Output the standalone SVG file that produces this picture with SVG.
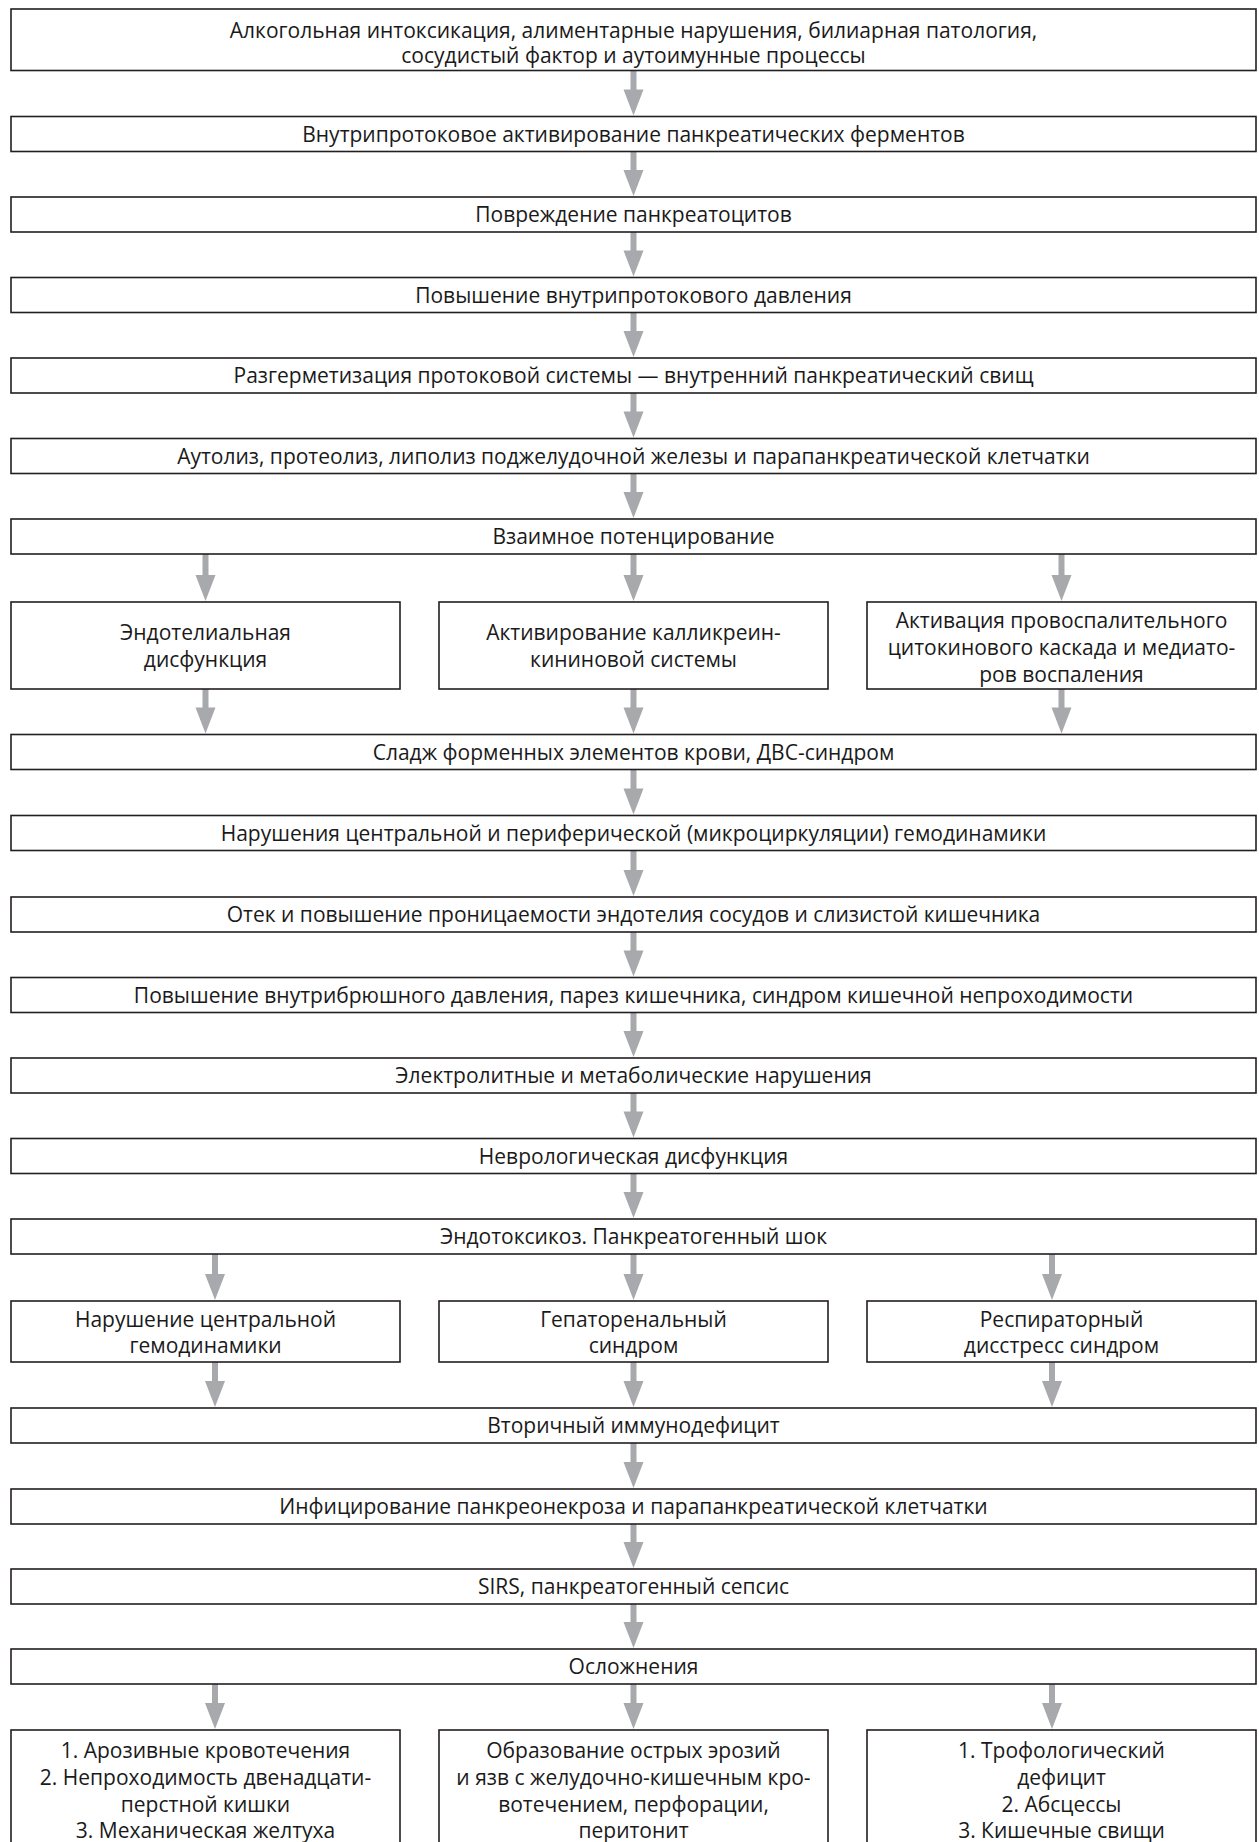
<svg xmlns="http://www.w3.org/2000/svg" width="1259" height="1842" viewBox="0 0 1259 1842">
<style>
.b{fill:#fff;stroke:#231f20;stroke-width:1.6}
.t{font-family:"Open Sans","Noto Sans",sans-serif;font-size:21px;fill:#1a1a1a;text-anchor:middle}
.a{fill:#a7a9ac}
</style>
<rect width="1259" height="1842" fill="#fff"/>
<g id="connectors">
<path class="a" d="M630.5,70.5V89.5H623.5L633.5,115.5L643.5,89.5H636.5V70.5Z"/>
<path class="a" d="M630.5,151.5V170H623.5L633.5,196L643.5,170H636.5V151.5Z"/>
<path class="a" d="M630.5,232V250.5H623.5L633.5,276.5L643.5,250.5H636.5V232Z"/>
<path class="a" d="M630.5,312.5V331H623.5L633.5,357L643.5,331H636.5V312.5Z"/>
<path class="a" d="M630.5,393V411.5H623.5L633.5,437.5L643.5,411.5H636.5V393Z"/>
<path class="a" d="M630.5,473.5V492H623.5L633.5,518L643.5,492H636.5V473.5Z"/>
<path class="a" d="M202.5,554V575H195.5L205.5,601L215.5,575H208.5V554Z"/>
<path class="a" d="M630.5,554V575H623.5L633.5,601L643.5,575H636.5V554Z"/>
<path class="a" d="M1058.5,554V575H1051.5L1061.5,601L1071.5,575H1064.5V554Z"/>
<path class="a" d="M202.5,689V707.5H195.5L205.5,733.5L215.5,707.5H208.5V689Z"/>
<path class="a" d="M630.5,689V707.5H623.5L633.5,733.5L643.5,707.5H636.5V689Z"/>
<path class="a" d="M1058.5,689V707.5H1051.5L1061.5,733.5L1071.5,707.5H1064.5V689Z"/>
<path class="a" d="M630.5,769.5V788.5H623.5L633.5,814.5L643.5,788.5H636.5V769.5Z"/>
<path class="a" d="M630.5,850.5V870H623.5L633.5,896L643.5,870H636.5V850.5Z"/>
<path class="a" d="M630.5,932V950.5H623.5L633.5,976.5L643.5,950.5H636.5V932Z"/>
<path class="a" d="M630.5,1012.5V1031H623.5L633.5,1057L643.5,1031H636.5V1012.5Z"/>
<path class="a" d="M630.5,1093V1111.5H623.5L633.5,1137.5L643.5,1111.5H636.5V1093Z"/>
<path class="a" d="M630.5,1173.5V1192H623.5L633.5,1218L643.5,1192H636.5V1173.5Z"/>
<path class="a" d="M212,1254V1274H205L215,1300L225,1274H218V1254Z"/>
<path class="a" d="M630.5,1254V1274H623.5L633.5,1300L643.5,1274H636.5V1254Z"/>
<path class="a" d="M1049,1254V1274H1042L1052,1300L1062,1274H1055V1254Z"/>
<path class="a" d="M212,1362V1381H205L215,1407L225,1381H218V1362Z"/>
<path class="a" d="M630.5,1362V1381H623.5L633.5,1407L643.5,1381H636.5V1362Z"/>
<path class="a" d="M1049,1362V1381H1042L1052,1407L1062,1381H1055V1362Z"/>
<path class="a" d="M630.5,1443V1462H623.5L633.5,1488L643.5,1462H636.5V1443Z"/>
<path class="a" d="M630.5,1524V1542H623.5L633.5,1568L643.5,1542H636.5V1524Z"/>
<path class="a" d="M630.5,1604V1622H623.5L633.5,1648L643.5,1622H636.5V1604Z"/>
<path class="a" d="M212,1684V1703H205L215,1729L225,1703H218V1684Z"/>
<path class="a" d="M630.5,1684V1703H623.5L633.5,1729L643.5,1703H636.5V1684Z"/>
<path class="a" d="M1049,1684V1703H1042L1052,1729L1062,1703H1055V1684Z"/>
</g>
<g id="n1"><rect class="b" x="11" y="9" width="1245" height="61.5"/><text class="t" x="633.5" y="37.5">Алкогольная интоксикация, алиментарные нарушения, билиарная патология,</text><text class="t" x="633.5" y="62.5">сосудистый фактор и аутоимунные процессы</text></g>
<g id="n2"><rect class="b" x="11" y="116.5" width="1245" height="35"/><text class="t" x="633.5" y="141.5">Внутрипротоковое активирование панкреатических ферментов</text></g>
<g id="n3"><rect class="b" x="11" y="197" width="1245" height="35"/><text class="t" x="633.5" y="222">Повреждение панкреатоцитов</text></g>
<g id="n4"><rect class="b" x="11" y="277.5" width="1245" height="35"/><text class="t" x="633.5" y="302.5">Повышение внутрипротокового давления</text></g>
<g id="n5"><rect class="b" x="11" y="358" width="1245" height="35"/><text class="t" x="633.5" y="383">Разгерметизация протоковой системы — внутренний панкреатический свищ</text></g>
<g id="n6"><rect class="b" x="11" y="438.5" width="1245" height="35"/><text class="t" x="633.5" y="463.5">Аутолиз, протеолиз, липолиз поджелудочной железы и парапанкреатической клетчатки</text></g>
<g id="n7"><rect class="b" x="11" y="519" width="1245" height="35"/><text class="t" x="633.5" y="544">Взаимное потенцирование</text></g>
<g id="n8a"><rect class="b" x="11" y="602" width="389" height="87"/><text class="t" x="205.5" y="639.5">Эндотелиальная</text><text class="t" x="205.5" y="666.5">дисфункция</text></g>
<g id="n8b"><rect class="b" x="439" y="602" width="389" height="87"/><text class="t" x="633.5" y="639.5">Активирование калликреин-</text><text class="t" x="633.5" y="666.5">кининовой системы</text></g>
<g id="n8c"><rect class="b" x="867" y="602" width="389" height="87"/><text class="t" x="1061.5" y="627.5">Активация провоспалительного</text><text class="t" x="1061.5" y="654.5">цитокинового каскада и медиато-</text><text class="t" x="1061.5" y="681.5">ров воспаления</text></g>
<g id="n9"><rect class="b" x="11" y="734.5" width="1245" height="35"/><text class="t" x="633.5" y="759.5">Сладж форменных элементов крови, ДВС-синдром</text></g>
<g id="n10"><rect class="b" x="11" y="815.5" width="1245" height="35"/><text class="t" x="633.5" y="840.5">Нарушения центральной и периферической (микроциркуляции) гемодинамики</text></g>
<g id="n11"><rect class="b" x="11" y="897" width="1245" height="35"/><text class="t" x="633.5" y="922">Отек и повышение проницаемости эндотелия сосудов и слизистой кишечника</text></g>
<g id="n12"><rect class="b" x="11" y="977.5" width="1245" height="35"/><text class="t" x="633.5" y="1002.5">Повышение внутрибрюшного давления, парез кишечника, синдром кишечной непроходимости</text></g>
<g id="n13"><rect class="b" x="11" y="1058" width="1245" height="35"/><text class="t" x="633.5" y="1083">Электролитные и метаболические нарушения</text></g>
<g id="n14"><rect class="b" x="11" y="1138.5" width="1245" height="35"/><text class="t" x="633.5" y="1163.5">Неврологическая дисфункция</text></g>
<g id="n15"><rect class="b" x="11" y="1219" width="1245" height="35"/><text class="t" x="633.5" y="1244">Эндотоксикоз. Панкреатогенный шок</text></g>
<g id="n16a"><rect class="b" x="11" y="1301" width="389" height="61"/><text class="t" x="205.5" y="1326.5">Нарушение центральной</text><text class="t" x="205.5" y="1352.5">гемодинамики</text></g>
<g id="n16b"><rect class="b" x="439" y="1301" width="389" height="61"/><text class="t" x="633.5" y="1326.5">Гепаторенальный</text><text class="t" x="633.5" y="1352.5">синдром</text></g>
<g id="n16c"><rect class="b" x="867" y="1301" width="389" height="61"/><text class="t" x="1061.5" y="1326.5">Респираторный</text><text class="t" x="1061.5" y="1352.5">дисстресс синдром</text></g>
<g id="n17"><rect class="b" x="11" y="1408" width="1245" height="35"/><text class="t" x="633.5" y="1433">Вторичный иммунодефицит</text></g>
<g id="n18"><rect class="b" x="11" y="1489" width="1245" height="35"/><text class="t" x="633.5" y="1514">Инфицирование панкреонекроза и парапанкреатической клетчатки</text></g>
<g id="n19"><rect class="b" x="11" y="1569" width="1245" height="35"/><text class="t" x="633.5" y="1594">SIRS, панкреатогенный сепсис</text></g>
<g id="n20"><rect class="b" x="11" y="1649" width="1245" height="35"/><text class="t" x="633.5" y="1674">Осложнения</text></g>
<g id="n21a"><rect class="b" x="11" y="1730" width="389" height="120"/><text class="t" x="205.5" y="1757.5">1. Арозивные кровотечения</text><text class="t" x="205.5" y="1784.5">2. Непроходимость двенадцати-</text><text class="t" x="205.5" y="1811.5">перстной кишки</text><text class="t" x="205.5" y="1837.5">3. Механическая желтуха</text></g>
<g id="n21b"><rect class="b" x="439" y="1730" width="389" height="120"/><text class="t" x="633.5" y="1757.5">Образование острых эрозий</text><text class="t" x="633.5" y="1784.5">и язв с желудочно-кишечным кро-</text><text class="t" x="633.5" y="1811.5">вотечением, перфорации,</text><text class="t" x="633.5" y="1837.5">перитонит</text></g>
<g id="n21c"><rect class="b" x="867" y="1730" width="389" height="120"/><text class="t" x="1061.5" y="1757.5">1. Трофологический</text><text class="t" x="1061.5" y="1784.5">дефицит</text><text class="t" x="1061.5" y="1811.5">2. Абсцессы</text><text class="t" x="1061.5" y="1837.5">3. Кишечные свищи</text></g>
</svg>
